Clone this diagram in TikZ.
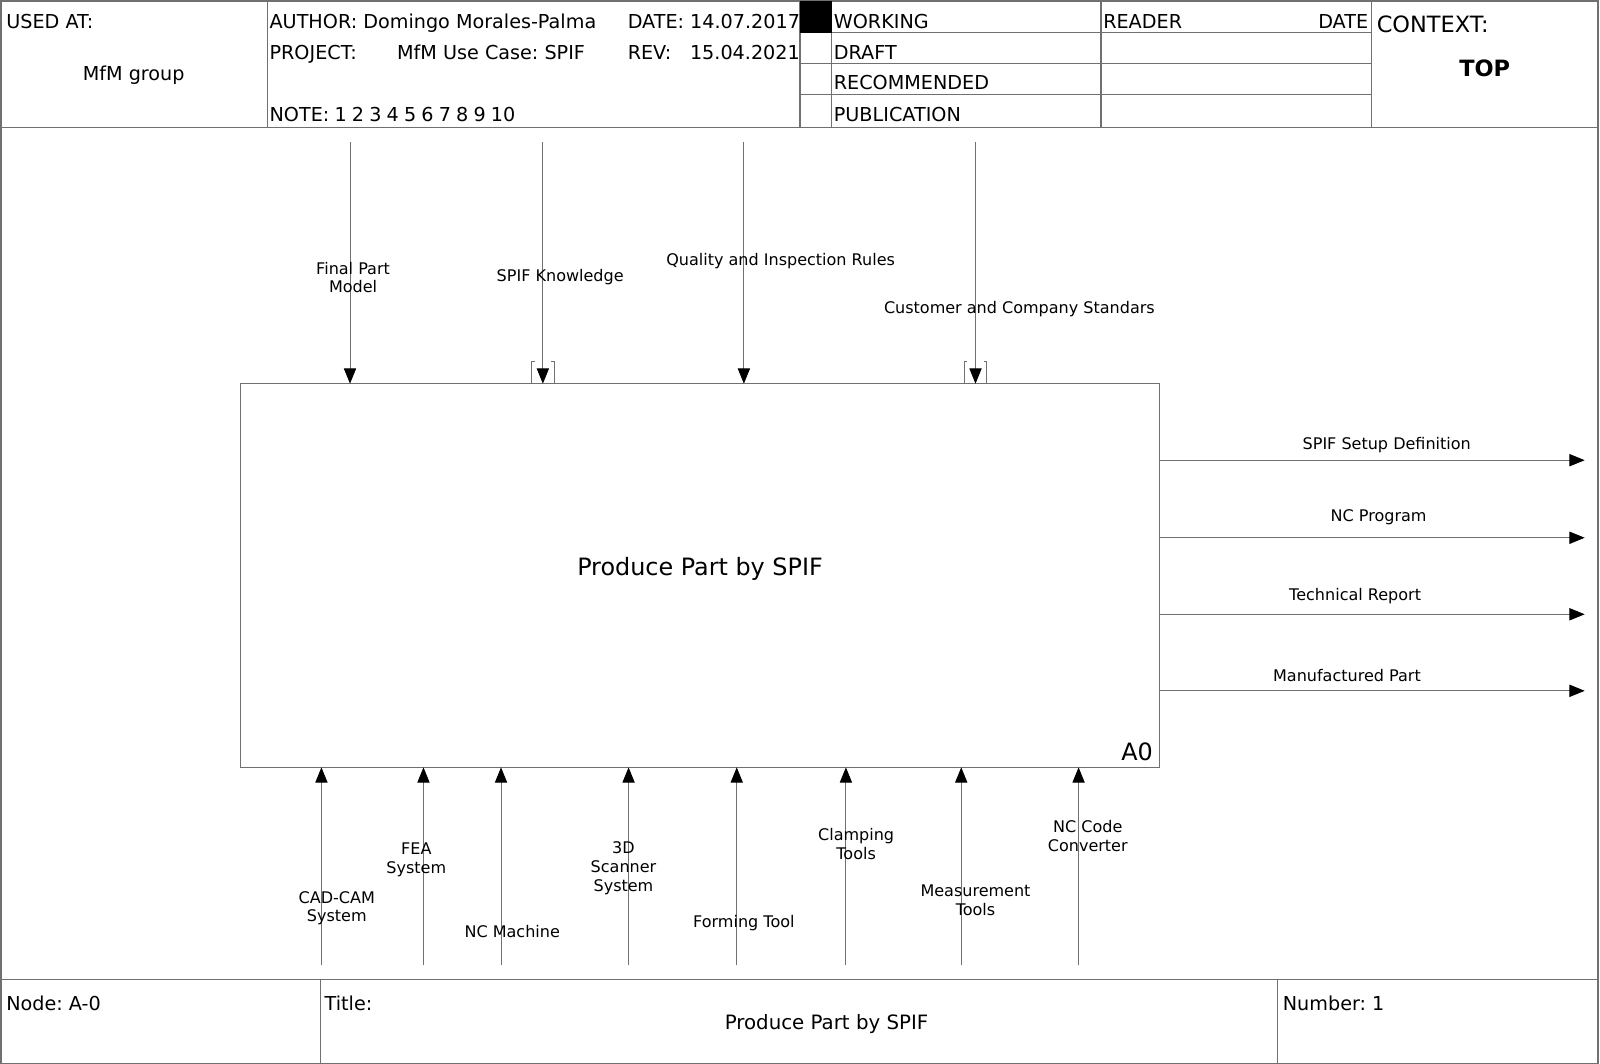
\documentclass[tikz,border=0pt]{standalone}
\usepackage{fontspec}
\setmainfont{DejaVu Sans}
\usetikzlibrary{arrows.meta}
\definecolor{linegray}{HTML}{707070}
\newcommand\lblfont{\fontsize{15.7}{18.5}\selectfont}
\newcommand\hdrfont{\fontsize{18.8}{22}\selectfont}
\newcommand\bigfont{\fontsize{22}{26}\selectfont}
\newcommand\ttlfont{\fontsize{23.4}{28}\selectfont}
\frenchspacing
\begin{document}
\begin{tikzpicture}[x=1pt,y=-1pt,
  frameline/.style={draw=linegray,line width=1.1pt},
  conn/.style={draw=linegray,line width=0.9pt,-{Triangle[length=15pt,width=12pt,color=black]}},
  tunnel/.style={draw=linegray,line width=0.8pt},
  lab/.style={font=\lblfont,align=center,inner sep=0pt},
  hd/.style={font=\hdrfont,anchor=base west,inner sep=0pt},
  hdc/.style={font=\hdrfont,anchor=base,inner sep=0pt}]
\useasboundingbox (0,0) rectangle (1568,1042.7);

% outer frame and header/footer
\draw[frameline] (1,1) rectangle (1566,1042);
\draw[frameline] (1,125) -- (1566,125);
\draw[frameline] (1,960) -- (1566,960);
\draw[frameline] (262,1) -- (262,125);
\draw[frameline] (784,1) -- (784,125);
\draw[frameline] (815,1) -- (815,125);
\draw[frameline] (1079,1) -- (1079,125);
\draw[frameline] (1344,1) -- (1344,125);
\draw[frameline] (784,32) -- (1344,32);
\draw[frameline] (784,62) -- (1344,62);
\draw[frameline] (784,93) -- (1344,93);
\fill[black] (784,1) rectangle (815,32);
\draw[frameline] (314,960) -- (314,1042);
\draw[frameline] (1252,960) -- (1252,1042);

% header texts
\node[hd] (usedat) at (6,28) {USED AT:};
\node[hdc] (group) at (131,79) {MfM group};
\node[hd] (author) at (264,28) {AUTHOR: Domingo Morales-Palma};
\node[hd] (date) at (615,28) {DATE: 14.07.2017};
\node[hd] (project) at (264,58) {PROJECT:};
\node[hd] (projname) at (389,58) {MfM Use Case: SPIF};
\node[hd] (rev) at (615,58) {REV:};
\node[hd] (revdate) at (676,58) {15.04.2021};
\node[hd] (note) at (264,119) {\spaceskip=0.27em NOTE: 1 2 3 4 5 6 7 8 9 10};
\node[hd] (working) at (817,28) {WORKING};
\node[hd] (draft) at (817,58) {DRAFT};
\node[hd] (recom) at (817,88) {RECOMMENDED};
\node[hd] (publ) at (817,119) {PUBLICATION};
\node[hd] (reader) at (1081,28) {READER};
\node[font=\hdrfont,anchor=base east,inner sep=0pt] (rdate) at (1341,28) {DATE};
\node[font=\bigfont,anchor=base west,inner sep=0pt] (context) at (1349,32) {CONTEXT:};
\node[font=\bigfont\bfseries,anchor=base,inner sep=0pt] (top) at (1455,75) {TOP};

% footer texts
\node[hd] (nodeid) at (6,990) {Node: A-0};
\node[hd] (title) at (318,990) {Title:};
\node[font=\fontsize{19.4}{23}\selectfont,anchor=base,inner sep=0pt] (titletext) at (810,1009) {Produce Part by SPIF};
\node[hd] (number) at (1257,990) {Number: 1};

% activity box
\node[draw=linegray,line width=1pt,minimum width=900pt,minimum height=376pt,inner sep=0pt,outer sep=0pt] (A0box) at (686,564) {};
\node[font=\ttlfont,inner sep=0pt,anchor=base] (A0name) at (686,564) {Produce Part by SPIF};
\node[font=\ttlfont,inner sep=0pt,anchor=base east] (A0num) at (1130,745) {A0};

% controls (top)
\coordinate (t1) at (343,139);
\coordinate (t2) at (532,139);
\coordinate (t3) at (729,139);
\coordinate (t4) at (956,139);
\foreach \c in {t1,t2,t3,t4} \draw[conn] (\c) -- (\c |- A0box.north);
\foreach \xx in {532,956} {
  \draw[tunnel] (\xx-8,354) -- (\xx-11,354) -- (\xx-11,376);
  \draw[tunnel] (\xx+8,354) -- (\xx+11,354) -- (\xx+11,376);
}
\node[lab] (l1) at (346,272) {Final Part\\Model};
\node[lab] (l2) at (549,272) {SPIF Knowledge};
\node[lab] (l3) at (765,256) {Quality and Inspection Rules};
\node[lab] (l4) at (999,303) {Customer and Company Standars};

% outputs (right)
\coordinate (o1) at (1553,451);
\coordinate (o2) at (1553,527);
\coordinate (o3) at (1553,602);
\coordinate (o4) at (1553,677);
\foreach \c in {o1,o2,o3,o4} \draw[conn] (\c -| A0box.east) -- (\c);
\node[lab] (lo1) at (1359,436) {SPIF Setup Definition};
\node[lab] (lo2) at (1351,507) {NC Program};
\node[lab] (lo3) at (1328,584) {Technical Report};
\node[lab] (lo4) at (1320,662) {Manufactured Part};

% mechanisms (bottom)
\coordinate (b1) at (315,946);
\coordinate (b2) at (415,946);
\coordinate (b3) at (491,946);
\coordinate (b4) at (616,946);
\coordinate (b5) at (722,946);
\coordinate (b6) at (829,946);
\coordinate (b7) at (942,946);
\coordinate (b8) at (1057,946);
\foreach \c in {b1,b2,b3,b4,b5,b6,b7,b8} \draw[conn] (\c) -- (\c |- A0box.south);
\node[lab] (lb1) at (330,890) {CAD-CAM\\System};
\node[lab] (lb2) at (408,843) {FEA\\System};
\node[lab] (lb3) at (502,913) {NC Machine};
\node[lab] (lb4) at (611,851) {3D\\Scanner\\System};
\node[lab] (lb5) at (729,905) {Forming Tool};
\node[lab] (lb6) at (839,827) {Clamping\\Tools};
\node[lab] (lb7) at (956,882) {Measurement\\Tools};
\node[lab] (lb8) at (1066,819) {NC Code\\Converter};
\end{tikzpicture}
\end{document}
